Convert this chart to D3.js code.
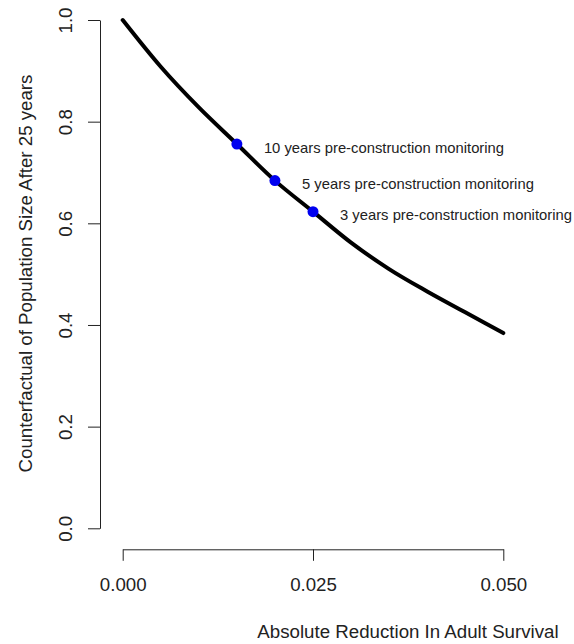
<!DOCTYPE html>
<html>
<head>
<meta charset="utf-8">
<script src="https://cdn.jsdelivr.net/npm/d3@7"></script>
<style>
    body { margin: 0; background: #fff; }
    svg { display: block; font-family: "Liberation Sans", Arial, sans-serif; }
</style>
</head>
<body>
<svg id="chart"></svg>
<script>
// reduction in adult survival and counterfactual population size
const reduction = [0, 0.005, 0.010, 0.015, 0.020, 0.025, 0.030, 0.035, 0.040, 0.045, 0.050];
const popSize = [1.000, 0.908, 0.828, 0.756, 0.684, 0.623, 0.562, 0.510, 0.466, 0.425, 0.384];

// monitoring scenarios
const scenarioLabels = [
    '10 years pre-construction monitoring',
    '5 years pre-construction monitoring',
    '3 years pre-construction monitoring'
];
const scenarioX = [0.015, 0.020, 0.025];
const scenarioY = [0.756, 0.684, 0.623];

const xTicks = [0, 0.025, 0.05];
const yTicks = [0, 0.2, 0.4, 0.6, 0.8, 1.0];

class CurvePlot {
    constructor(config) {
        this.config = {
            parent: config.parent,
            width: config.width || 574,
            height: config.height || 644
        };
        this.init();
    }

    init() {
        let self = this;

        self.svg = d3.select(self.config.parent)
            .attr('width', self.config.width)
            .attr('height', self.config.height);

        self.xscale = d3.scaleLinear()
            .domain([0, 0.05])
            .range([122.7, 503.3]);

        self.yscale = d3.scaleLinear()
            .domain([0, 1])
            .range([528.3, 20]);

        self.xaxis = d3.axisBottom(self.xscale)
            .tickValues(xTicks)
            .tickFormat(d3.format('.3f'))
            .tickSize(11.5)
            .tickSizeOuter(0)
            .tickPadding(16.5);

        self.yaxis = d3.axisLeft(self.yscale)
            .tickValues(yTicks)
            .tickFormat(d3.format('.1f'))
            .tickSize(12)
            .tickSizeOuter(0);

        self.xaxis_group = self.svg.append('g')
            .attr('transform', `translate(0, 549.3)`);

        self.yaxis_group = self.svg.append('g')
            .attr('transform', `translate(100, 0)`);

        self.svg.append('text')
            .style('font-size', '18.7px')
            .attr('fill', '#222')
            .attr('x', 408)
            .attr('y', 637.5)
            .attr('text-anchor', 'middle')
            .text('Absolute Reduction In Adult Survival');

        self.svg.append('text')
            .style('font-size', '18.7px')
            .attr('fill', '#222')
            .attr('transform', `translate(32, 273.5) rotate(-90)`)
            .attr('text-anchor', 'middle')
            .text('Counterfactual of Population Size After 25 years');
    }

    render() {
        let self = this;

        self.xaxis_group.call(self.xaxis);
        self.yaxis_group.call(self.yaxis);

        [self.xaxis_group, self.yaxis_group].forEach(g => {
            g.select('.domain').attr('stroke', '#222');
            g.selectAll('.tick line').attr('stroke', '#222');
            g.selectAll('.tick text')
                .attr('fill', '#222')
                .style('font-size', '18.7px')
                .style('font-family', '"Liberation Sans", Arial, sans-serif');
        });

        self.yaxis_group.selectAll('.tick text')
            .attr('transform', 'rotate(-90)')
            .attr('x', 0)
            .attr('y', -28)
            .attr('dy', 0)
            .attr('text-anchor', 'middle');

        const line = d3.line()
            .x((d, i) => self.xscale(reduction[i]))
            .y(d => self.yscale(d))
            .curve(d3.curveMonotoneX);

        self.svg.append('path')
            .datum(popSize)
            .attr('d', line)
            .attr('fill', 'none')
            .attr('stroke', '#000')
            .attr('stroke-width', 4)
            .attr('stroke-linejoin', 'round')
            .attr('stroke-linecap', 'round');

        self.svg.selectAll('circle.pt')
            .data(scenarioX)
            .join('circle')
            .attr('class', 'pt')
            .attr('cx', d => self.xscale(d))
            .attr('cy', (d, i) => self.yscale(scenarioY[i]))
            .attr('r', 5.5)
            .attr('fill', '#0000f0');

        self.svg.selectAll('text.lbl')
            .data(scenarioLabels)
            .join('text')
            .attr('class', 'lbl')
            .style('font-size', '14.8px')
            .attr('fill', '#222')
            .attr('x', (d, i) => self.xscale(scenarioX[i]) + 27)
            .attr('y', (d, i) => self.yscale(scenarioY[i]) + 8.5)
            .text(d => d);
    }
}

const plot = new CurvePlot({ parent: '#chart' });
plot.render();
</script>
</body>
</html>
